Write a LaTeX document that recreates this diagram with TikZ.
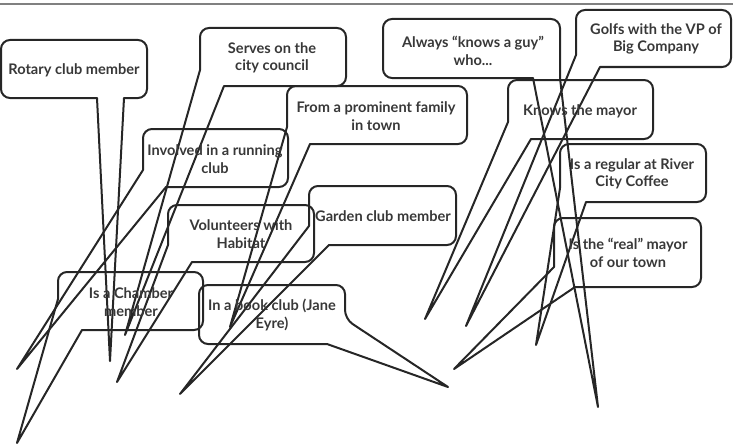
\documentclass[tikz,border=0pt]{standalone}
\usepackage{fontspec}
\setmainfont{Lato}
\tikzset{
	bubble/.style={draw=black!85, line width=2pt, line join=round},
	bubbletext/.style={font=\bfseries\fontsize{14.6}{17.5}\selectfont, text=black!78, align=center, inner sep=0pt},
}
\begin{document}
\begin{tikzpicture}[x=1pt,y=-1pt]
			\useasboundingbox (0,0) rectangle (733,444);
			\draw[black!50, line width=2pt] (0,4) -- (733,4);
			% where the tails point
			\coordinate (rotarytip) at (110,361);
			\coordinate (counciltip) at (125,335);
			\coordinate (guytip) at (598,407);
			\coordinate (golfstip) at (466,326);
			\coordinate (familytip) at (230,327);
			\coordinate (mayortip) at (425,319);
			\coordinate (runningtip) at (17,369);
			\coordinate (coffeetip) at (536,345);
			\coordinate (gardentip) at (180,394);
			\coordinate (habitattip) at (117,382);
			\coordinate (realtip) at (454,369);
			\coordinate (chambertip) at (17,443);
			\coordinate (booktip) at (448,387);
			% the bubbles
			\draw[bubble] (rotarytip) -- (97,98) [rounded corners=9pt] -- (1,98) -- (1,40) -- (147,40) -- (147,98) [sharp corners] -- (124,98) -- cycle;
			\draw[bubble] (counciltip) -- (200,70) [rounded corners=9pt] -- (200,28) -- (346,28) -- (346,86) [sharp corners] -- (224,86) -- cycle;
			\draw[bubble] (guytip) -- (533,78) [rounded corners=9pt] -- (383,78) -- (383,19) -- (560,19) [sharp corners] -- (560,78) -- cycle;
			\draw[bubble] (golfstip) -- (576,55) [rounded corners=9pt] -- (576,10) -- (731,10) -- (731,67) [sharp corners] -- (600,67) -- cycle;
			\draw[bubble] (familytip) -- (287,127) [rounded corners=9pt] -- (287,86) -- (467,86) -- (467,144) [sharp corners] -- (310,144) -- cycle;
			\draw[bubble] (mayortip) -- (508,122) [rounded corners=9pt] -- (508,80) -- (653,80) -- (653,139) [sharp corners] -- (531,139) -- cycle;
			\draw[bubble] (runningtip) -- (143,170) [rounded corners=9pt] -- (143,129) -- (288,129) -- (288,187) [sharp corners] -- (166,187) -- cycle;
			\draw[bubble] (coffeetip) -- (560,188) [rounded corners=9pt] -- (560,144) -- (706,144) -- (706,202) [sharp corners] -- (586,202) -- cycle;
			\draw[bubble] (gardentip) -- (309,226) [rounded corners=9pt] -- (309,186) -- (456,186) -- (456,245) [sharp corners] -- (329,245) -- cycle;
			\draw[bubble] (habitattip) -- (168,245) [rounded corners=9pt] -- (168,205) -- (314,205) -- (314,262) [sharp corners] -- (192,262) -- cycle;
			\draw[bubble] (realtip) -- (554,267) [rounded corners=9pt] -- (554,218) -- (701,218) -- (701,287) [sharp corners] -- (575,287) -- cycle;
			\draw[bubble] (chambertip) -- (58,299) [rounded corners=9pt] -- (58,272) -- (203,272) -- (203,330) [sharp corners] -- (82,330) -- cycle;
			\draw[bubble] (booktip) -- (327,344) [rounded corners=9pt] -- (199,344) -- (199,285) -- (345,285) -- (345,319) [sharp corners] -- cycle;
			% the texts
			\node[bubbletext] (rotary) at (74,70) {Rotary club member};
			\node[bubbletext] (council) at (272,58) {Serves on the\\city council};
			\node[bubbletext] (guy) at (473,51) {Always “knows a guy”\\who...};
			\node[bubbletext] (golfs) at (656,39) {Golfs with the VP of\\Big Company};
			\node[bubbletext] (family) at (376,116) {From a prominent family\\in town};
			\node[bubbletext] (mayor) at (580,111) {Knows the mayor};
			\node[bubbletext] (running) at (215,159) {Involved in a running\\club};
			\node[bubbletext] (coffee) at (632,174) {Is a regular at River\\City Coffee};
			\node[bubbletext] (garden) at (383,216) {Garden club member};
			\node[bubbletext] (habitat) at (241,234) {Volunteers with\\Habitat};
			\node[bubbletext] (real) at (628,253) {Is the “real” mayor\\of our town};
			\node[bubbletext] (chamber) at (131,302) {Is a Chamber\\member};
			\node[bubbletext] (book) at (272,315) {In a book club (Jane\\Eyre)};
\end{tikzpicture}
\end{document}
